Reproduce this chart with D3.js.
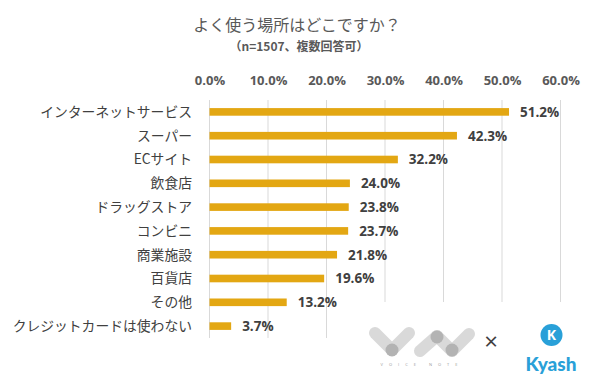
<!DOCTYPE html>
<html>
<head>
<meta charset="utf-8">
<script src="https://cdn.jsdelivr.net/npm/d3@7"></script>
<style>
  body { margin: 0; background: #fff; }
  svg { display: block; }
</style>
</head>
<body>
<div id="chartDiv"></div>
<script>
// data
let categories = ["インターネットサービス", "スーパー", "ECサイト", "飲食店", "ドラッグストア",
                  "コンビニ", "商業施設", "百貨店", "その他", "クレジットカードは使わない"];
let values = [0.512, 0.423, 0.322, 0.240, 0.238, 0.237, 0.218, 0.196, 0.132, 0.037];
let tickValues = [0, 0.1, 0.2, 0.3, 0.4, 0.5, 0.6];
let titleText = "よく使う場所はどこですか？";
let subTitleText = "（n=1507、複数回答可）";

let width = 600, height = 385;
let jpFont = "'Noto Sans CJK JP', 'Noto Sans', sans-serif";
let numFont = "'Open Sans', 'Noto Sans', sans-serif";

let svg = d3.select("#chartDiv")
    .append("svg")
    .attr("width", width)
    .attr("height", height);

let xScale = d3.scaleLinear()
    .domain([0, 0.6])
    .range([209.5, 560.5]);

let yScale = d3.scaleBand()
    .domain(categories)
    .range([100, 338])
    .paddingInner(0.68)
    .paddingOuter(0.34);

// title
svg.append("text")
    .attr("x", 297).attr("y", 31)
    .attr("text-anchor", "middle")
    .attr("font-family", jpFont)
    .attr("font-size", 16)
    .attr("fill", "#595959")
    .text(titleText);

svg.append("text")
    .attr("x", 299).attr("y", 51)
    .attr("text-anchor", "middle")
    .attr("font-family", jpFont)
    .attr("font-size", 12)
    .attr("font-weight", "bold")
    .attr("fill", "#595959")
    .text(subTitleText);

// gridlines
svg.append("g")
    .selectAll("line")
    .data(tickValues)
    .enter().append("line")
    .attr("x1", d => xScale(d)).attr("x2", d => xScale(d))
    .attr("y1", 100).attr("y2", 338)
    .attr("stroke", "#d9d9d9")
    .attr("stroke-width", 1);

// top axis labels
let xAxis = d3.axisTop(xScale)
    .tickValues(tickValues)
    .tickFormat(d3.format(".1%"))
    .tickSize(0)
    .tickPadding(0);

let axisG = svg.append("g")
    .attr("transform", "translate(0,85)")
    .call(xAxis);
axisG.select(".domain").remove();
axisG.selectAll("text")
    .attr("font-family", numFont)
    .attr("font-size", 13)
    .attr("font-weight", "bold")
    .attr("fill", "#595959");

// bars
svg.append("g")
    .selectAll("rect")
    .data(values)
    .enter().append("rect")
    .attr("x", xScale(0))
    .attr("y", (d, i) => yScale(categories[i]))
    .attr("width", d => xScale(d) - xScale(0))
    .attr("height", yScale.bandwidth())
    .attr("fill", "#E3A713");

// value labels
svg.append("g")
    .selectAll("text")
    .data(values)
    .enter().append("text")
    .attr("x", d => xScale(d) + 11)
    .attr("y", (d, i) => yScale(categories[i]) + yScale.bandwidth() / 2)
    .attr("dy", "0.36em")
    .attr("font-family", numFont)
    .attr("font-size", 13.5)
    .attr("font-weight", "bold")
    .attr("fill", "#404040")
    .text(d => d3.format(".1%")(d));

// category labels
svg.append("g")
    .selectAll("text")
    .data(categories)
    .enter().append("text")
    .attr("x", 192)
    .attr("y", d => yScale(d) + yScale.bandwidth() / 2)
    .attr("dy", "0.36em")
    .attr("text-anchor", "end")
    .attr("font-family", jpFont)
    .attr("font-size", 13.8)
    .attr("fill", "#404040")
    .text(d => d);

// logo area (white box covers gridlines)
let logoG = svg.append("g");
logoG.append("rect")
    .attr("x", 340).attr("y", 302)
    .attr("width", 260).attr("height", 83)
    .attr("fill", "#fff");

// voice note mark: capsules
let capsules = [
    [[375, 333], [392, 350]],
    [[392, 350], [409, 333]],
    [[420, 351], [437, 336]],
    [[437, 336], [452, 351]],
    [[452, 351], [469, 334]]
];
logoG.selectAll("line.cap")
    .data(capsules)
    .enter().append("line")
    .attr("class", "cap")
    .attr("x1", d => d[0][0]).attr("y1", d => d[0][1])
    .attr("x2", d => d[1][0]).attr("y2", d => d[1][1])
    .attr("stroke", "#d9d9d9")
    .attr("stroke-width", 12)
    .attr("stroke-linecap", "round");
logoG.selectAll("circle.joint")
    .data([[392, 350], [437, 337], [452, 350]])
    .enter().append("circle")
    .attr("class", "joint")
    .attr("cx", d => d[0]).attr("cy", d => d[1])
    .attr("r", 6.5)
    .attr("fill", "#b3b3b3");
logoG.append("text")
    .attr("x", 422).attr("y", 366)
    .attr("text-anchor", "middle")
    .attr("font-family", numFont)
    .attr("font-size", 4)
    .attr("letter-spacing", 6)
    .attr("fill", "#999")
    .text("VOICE NOTE");

// ×
logoG.append("text")
    .attr("x", 491).attr("y", 350)
    .attr("text-anchor", "middle")
    .attr("font-family", numFont)
    .attr("font-size", 24)
    .attr("fill", "#404040")
    .text("×");

// kyash mark
logoG.append("circle")
    .attr("cx", 551.5).attr("cy", 335)
    .attr("r", 11)
    .attr("fill", "#29A0D8");
logoG.append("text")
    .attr("x", 551.5).attr("y", 340)
    .attr("text-anchor", "middle")
    .attr("font-family", numFont)
    .attr("font-size", 14)
    .attr("font-weight", "bold")
    .attr("fill", "#fff")
    .text("K");
logoG.append("text")
    .attr("x", 551).attr("y", 371)
    .attr("text-anchor", "middle")
    .attr("font-family", "'Lato', 'Open Sans', sans-serif")
    .attr("font-size", 19)
    .attr("font-weight", "900")
    .attr("fill", "#29A0D8")
    .text("Kyash");
</script>
</body>
</html>
